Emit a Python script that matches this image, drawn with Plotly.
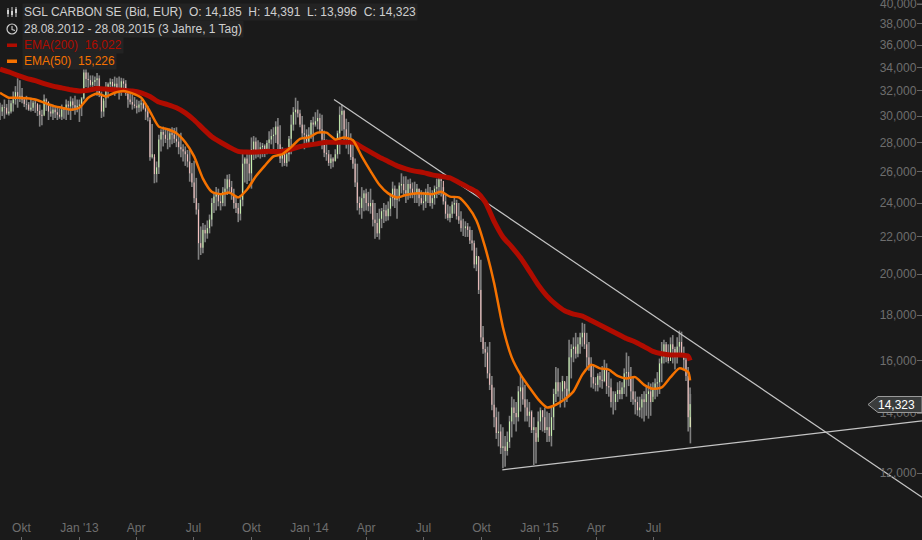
import datetime as dt
import math
import plotly.graph_objects as go

START = dt.datetime(2012, 8, 28)
END = dt.datetime(2015, 8, 28)

high = [31.05,31.3,31.3,31.95,33.05,32.25,31.6,31.45,31.3,30.9,
31.7,31.05,30.9,30.65,30.9,31.3,31.55,31.6,31.3,34.0,
33.55,33.3,33.5,31.95,32.75,33.05,33.2,33.2,33.05,32.1,
31.7,31.3,31.3,31.0,29.7,27.0,28.6,29.2,29.0,29.15,
29.15,28.75,27.75,27.55,26.75,24.0,22.8,22.95,24.3,25.0,
24.6,25.55,25.85,24.9,24.0,27.35,27.2,28.4,28.4,28.05,
27.9,28.85,29.15,29.85,27.7,27.55,30.1,31.45,30.5,29.35,
29.15,29.95,30.5,30.1,28.25,27.2,27.55,30.75,30.5,29.55,
28.25,26.55,25.0,24.9,24.9,24.0,23.65,24.0,24.1,25.35,
24.9,25.9,25.7,25.55,25.35,24.9,24.7,25.2,24.8,25.55,
25.85,24.6,23.8,24.4,24.0,23.05,22.8,22.4,21.4,20.75,
16.8,16.8,14.95,14.05,13.5,13.35,14.6,14.4,15.45,15.05,
14.4,13.85,14.05,14.1,14.05,14.2,15.75,15.15,15.15,16.9,
17.0,17.0,17.65,17.2,16.15,15.35,15.55,16.05,15.55,14.8,
15.15,15.15,16.35,15.75,14.8,14.6,14.8,15.15,15.15,15.55,
16.8,16.8,17.0,16.6,17.3,16.6,15.75,14.95]

low = [29.7,29.8,30.05,30.35,30.65,31.0,30.5,30.35,30.25,29.2,
30.1,29.7,29.7,29.7,29.7,29.7,29.7,30.1,29.55,31.3,
32.1,32.25,31.6,29.85,30.65,31.95,31.6,31.3,32.1,30.65,
30.5,30.2,30.35,29.7,26.75,25.25,25.85,27.75,27.55,27.9,
27.7,27.0,26.4,25.35,24.0,20.75,21.1,21.9,22.6,23.55,
23.55,23.8,24.55,23.65,22.85,23.8,25.2,24.9,26.9,26.9,
27.0,27.4,27.55,27.2,26.35,26.35,27.2,29.35,29.15,27.55,
27.9,27.9,29.0,27.55,26.75,26.2,26.75,27.2,27.9,27.2,
26.2,23.55,23.05,23.55,23.35,21.9,21.85,22.8,22.95,23.8,
23.05,24.6,24.0,24.3,24.0,23.8,23.55,24.0,23.65,24.3,
24.4,23.05,22.85,23.35,22.75,22.05,22.0,21.25,20.15,16.8,
15.75,14.85,13.5,12.85,12.15,12.55,13.15,13.35,14.05,13.7,
13.5,12.25,13.15,13.35,13.0,12.85,14.4,14.2,14.2,14.8,
15.95,16.15,16.6,15.65,14.95,14.8,14.95,15.15,14.6,13.95,
14.4,14.5,14.6,14.4,13.95,13.85,13.7,13.8,14.6,14.6,
15.15,15.95,16.25,15.65,16.25,15.65,13.35,14.1]

close = [30.35,30.65,30.35,31.3,31.45,31.3,30.9,30.65,31.0,30.1,
31.3,30.35,30.5,30.1,30.5,30.9,31.15,30.65,30.9,33.55,
32.9,32.75,33.05,30.35,32.25,32.75,32.6,32.1,32.6,31.3,
30.9,30.65,31.0,30.35,27.0,25.85,28.25,28.6,28.25,28.6,
28.1,27.55,27.2,25.9,24.3,21.65,22.4,22.5,24.0,24.55,
24.0,24.9,25.0,24.0,23.35,26.55,26.55,27.55,27.4,27.7,
27.4,28.25,28.6,27.9,27.2,27.2,29.35,30.5,29.35,28.6,
28.6,29.35,29.85,28.25,27.2,26.9,27.2,30.1,29.0,27.9,
26.55,24.0,24.3,24.0,24.0,22.8,23.05,23.55,23.65,24.9,
24.3,25.2,24.6,24.9,24.6,24.3,24.1,24.6,24.3,25.0,
25.4,23.35,23.35,24.0,22.95,22.5,22.4,21.65,20.95,17.0,
16.35,15.05,13.85,13.35,12.85,13.0,14.2,13.85,14.95,14.2,
14.05,13.5,13.7,13.85,13.5,13.85,15.15,14.8,14.9,16.15,
16.6,16.7,17.2,16.15,15.35,15.05,15.25,15.65,14.95,14.4,
14.85,14.95,15.55,14.8,14.4,14.2,14.4,14.8,14.85,15.15,
16.15,16.35,16.7,16.15,16.8,16.05,13.85,14.323]

high_mid = [30.9,30.95,31.25,32.4,32.9,31.5,31.1,31.2,30.9,30.5,
31.4,30.95,30.7,30.6,30.7,31.2,31.4,31.3,31.5,33.9,
33.3,33.2,33.3,31.2,32.7,33.0,33.1,33.1,32.9,31.9,
31.5,31.2,31.1,30.8,29.4,26.7,29.0,29.1,29.05,29.1,
28.6,27.9,27.5,26.6,25.6,22.6,22.7,23.3,24.6,24.9,
25.0,25.8,25.4,24.4,24.5,27.0,27.2,28.5,28.2,28.0,
28.2,29.0,29.6,29.3,27.3,28.5,30.7,31.2,30.0,29.0,
29.7,30.3,30.2,28.9,27.5,27.0,28.9,30.9,29.8,28.7,
26.9,24.4,24.8,24.7,24.2,23.4,23.7,23.9,24.6,25.1,
25.3,25.7,25.5,25.3,25.2,24.8,24.9,25.0,25.1,25.7,
25.0,23.9,24.1,24.2,23.5,22.9,22.6,21.8,20.9,17.5,
16.6,15.4,14.2,13.6,13.2,13.9,14.5,15.0,15.3,14.5,
14.1,13.3,14.2,14.2,14.0,14.9,15.7,15.4,15.4,16.7,
17.2,17.2,17.6,16.8,15.8,15.5,15.8,15.9,15.3,14.8,
15.2,15.7,16.2,15.4,14.6,14.7,15.0,15.1,15.3,16.1,
16.9,16.7,17.1,17.0,17.25,16.3,14.7]

low_mid = [30.0,30.1,30.2,30.9,31.1,30.7,30.4,30.4,30.0,29.3,
30.4,29.95,29.85,29.8,29.8,30.1,30.4,30.3,30.0,32.3,
32.35,32.4,31.5,29.95,31.4,32.2,31.9,31.6,31.6,30.9,
30.6,30.3,30.5,29.6,26.9,25.3,27.4,28.0,27.7,28.0,
27.2,26.7,26.3,25.0,23.3,21.0,21.7,22.2,23.4,23.8,
23.8,24.5,24.2,23.4,22.95,25.3,25.4,26.8,27.0,27.0,
27.2,27.9,28.0,26.6,26.4,26.7,28.9,29.9,28.4,27.7,
28.3,29.2,28.8,27.0,26.4,26.3,26.9,28.9,27.6,26.8,
25.0,23.3,23.5,23.5,22.6,22.0,22.5,22.9,23.2,23.7,
24.1,24.5,24.2,24.3,24.0,23.9,23.7,23.8,23.9,24.5,
23.9,22.95,23.1,23.0,22.3,22.0,21.6,20.3,19.0,16.3,
15.3,14.1,13.1,12.6,12.2,12.8,13.6,13.7,14.3,13.7,
13.3,12.3,13.4,13.3,13.0,13.4,14.6,14.5,14.4,15.3,
16.1,16.3,16.5,15.6,14.9,14.8,14.9,14.7,14.2,14.1,
14.5,14.7,15.0,14.3,13.9,13.8,13.9,13.9,14.5,14.7,
15.9,15.9,15.9,15.9,16.2,15.2,12.95]

close_mid = [30.7,30.2,31.0,31.9,31.6,30.95,30.5,31.05,30.4,30.0,
31.15,30.2,30.3,29.95,30.6,30.75,30.85,30.8,31.4,33.0,
32.5,32.9,31.7,31.4,32.55,32.4,32.2,32.8,31.8,31.1,
30.8,30.9,30.6,29.9,27.2,26.3,28.8,28.3,28.7,28.3,
27.7,27.4,26.7,25.3,23.6,21.4,22.2,23.0,24.4,24.1,
24.7,25.5,24.5,23.7,24.2,26.9,25.9,28.1,27.3,27.8,
28.0,28.5,29.2,26.9,26.6,28.3,30.3,30.2,28.7,28.1,
29.5,29.6,29.0,27.3,26.6,26.7,28.7,30.4,28.3,27.0,
25.3,23.7,24.6,23.8,23.0,22.2,23.5,23.2,24.3,24.2,
25.1,24.8,25.2,24.5,24.9,24.0,24.7,24.0,24.9,25.5,
24.1,23.1,23.9,23.2,22.5,22.6,21.8,20.5,19.2,16.5,
15.5,14.3,13.3,12.8,12.7,13.7,14.0,14.8,14.5,13.9,
13.4,13.0,14.1,13.4,13.2,14.7,14.8,15.2,14.6,16.5,
16.3,17.0,16.7,15.8,15.1,15.4,15.2,15.0,14.4,14.7,
14.7,15.5,15.3,14.5,14.1,14.5,14.7,14.4,15.1,15.9,
16.7,16.0,16.5,16.6,16.3,15.4,13.5]

ema200 = [33.85,33.6,33.3,33.05,32.85,32.6,32.4,32.25,32.1,32.0,
32.05,32.2,32.15,32.1,32.05,32.0,31.85,31.55,31.1,30.9,
30.65,30.25,29.7,29.05,28.45,28.05,27.7,27.4,27.35,27.35,
27.4,27.4,27.4,27.55,27.75,27.85,27.95,28.05,28.05,28.05,
28.05,27.7,27.35,27.0,26.7,26.4,26.2,26.05,25.95,25.8,
25.7,25.6,25.3,25.0,24.7,24.05,22.9,22.0,21.45,20.85,
20.15,19.45,18.9,18.5,18.2,18.05,17.95,17.75,17.55,17.35,
17.15,16.95,16.8,16.6,16.4,16.3,16.25,16.25,16.2,16.022]

ema50 = [31.85,31.45,31.45,31.4,31.3,31.05,30.8,30.65,30.5,30.65,
31.45,31.8,31.55,31.85,32.0,31.8,31.45,30.35,29.2,29.0,
28.7,28.05,27.05,25.55,24.7,24.55,24.65,24.35,24.85,25.7,
26.4,27.05,27.2,27.7,28.3,28.4,28.75,28.75,28.25,28.4,
28.2,27.05,26.05,25.15,24.6,24.35,24.5,24.6,24.6,24.55,
24.7,24.4,24.35,23.8,22.95,21.4,19.55,17.45,16.15,15.45,
14.95,14.5,14.2,14.3,14.5,14.8,15.45,15.85,15.7,15.65,
15.4,15.3,15.35,15.05,14.9,14.95,15.35,15.7,15.55,15.226]

trend_upper_dates = ["2014-02-09", "2016-08-30"]
trend_upper_prices = [31.3, 11.28]
trend_lower_dates = ["2014-11-03", "2016-08-30"]
trend_lower_prices = [12.1, 13.72]

y_ticks = [12, 14, 16, 18, 20, 22, 24, 26, 28, 30, 32, 34, 36, 38, 40]
y_labels = [f"{v},000" for v in y_ticks]
x_ticks = ["2012-10-01", "2013-01-01", "2013-04-01", "2013-07-01", "2013-10-01", "2014-01-01",
           "2014-04-01", "2014-07-01", "2014-10-01", "2015-01-01", "2015-04-01", "2015-07-01"]
x_labels = ["Okt", "Jan '13", "Apr", "Jul", "Okt", "Jan '14", "Apr", "Jul", "Okt", "Jan '15", "Apr", "Jul"]

W, H = 922, 540
BG = "#1a1a1a"
GREEN, PINK, GREY = "#c9f5b0", "#f5c2c0", "#808080"
RED, ORANGE = "#b00c00", "#f57200"
TXT = "#cfcfcf"
AXIS = "#6e6e6e"


def weave(a, b):
    out = []
    for i, v in enumerate(a):
        out.append(v)
        if i < len(b):
            out.append(b[i])
    return out


all_high = weave(high, high_mid)
all_low = weave(low, low_mid)
all_close = weave(close, close_mid)
bar_dates = [START + dt.timedelta(days=3.5 * i) for i in range(len(all_close))]
bar_dates[-1] = END
ema_dates = [START + dt.timedelta(days=14 * i) for i in range(len(ema200) - 1)] + [END]
opens = [all_close[0]] + all_close[:-1]

fig = go.Figure()
fig.add_trace(go.Ohlc(x=bar_dates, open=all_low, high=all_high, low=all_low, close=all_high, tickwidth=0,
                      increasing_line=dict(color=GREY, width=1.6), decreasing_line=dict(color=GREY, width=1.6),
                      hoverinfo="skip", showlegend=False))
fig.add_trace(go.Ohlc(x=bar_dates, open=opens, close=all_close,
                      high=[max(a, b) for a, b in zip(opens, all_close)],
                      low=[min(a, b) for a, b in zip(opens, all_close)], tickwidth=0,
                      increasing_line=dict(color=GREEN, width=1), decreasing_line=dict(color=PINK, width=1),
                      hoverinfo="skip", showlegend=False))
for xs, ys in ((trend_upper_dates, trend_upper_prices), (trend_lower_dates, trend_lower_prices)):
    fig.add_trace(go.Scatter(x=xs, y=ys, mode="lines", line=dict(color="#c4c4c4", width=1.2),
                             hoverinfo="skip", showlegend=False))
fig.add_trace(go.Scatter(x=ema_dates, y=ema200, mode="lines", line=dict(color=RED, width=5, shape="spline", smoothing=0.6),
                         hoverinfo="skip", showlegend=False))
fig.add_trace(go.Scatter(x=ema_dates, y=ema50, mode="lines", line=dict(color=ORANGE, width=2.5, shape="spline", smoothing=0.6),
                         hoverinfo="skip", showlegend=False))


def px(x):
    return x / W


def py(y):
    return 1 - y / H


def to_log(y_px):
    return math.log10(40 * math.exp(-(y_px - 4) / 389.6))


annotations = []
shapes = []


def label(x, y, text, color=TXT, size=12, bg="#232323"):
    annotations.append(dict(x=px(x), y=py(y), xref="paper", yref="paper", text=text, showarrow=False,
                            xanchor="left", yanchor="middle", align="left", bgcolor=bg, borderpad=1,
                            font=dict(family="Liberation Sans", size=size, color=color)))


label(22, 12.5, "SGL CARBON SE (Bid, EUR)&nbsp;&nbsp;O: 14,185&nbsp;&nbsp;H: 14,391&nbsp;&nbsp;L: 13,996&nbsp;&nbsp;C: 14,323")
label(22, 29, "28.08.2012 - 28.08.2015 (3 Jahre, 1 Tag)")
label(22, 45, "EMA(200)&nbsp;&nbsp;16,022", color=RED)
label(22, 61, "EMA(50)&nbsp;&nbsp;15,226", color=ORANGE)


def rect(x0, y0, x1, y1, fill, line=None):
    shapes.append(dict(type="rect", xref="paper", yref="paper", x0=px(x0), x1=px(x1), y0=py(y0), y1=py(y1),
                       fillcolor=fill, line=dict(width=0 if line is None else 1, color=line or fill), layer="above"))


rect(7, 43.5, 17, 47, RED)
rect(7, 59.5, 17, 63, ORANGE)
# bar-chart icon and clock icon
for cx, top, bottom, bt, bb in ((8, 8, 17, 10, 14), (12, 7, 17, 11, 15), (16, 7, 17, 9, 13)):
    shapes.append(dict(type="line", xref="paper", yref="paper", x0=px(cx), x1=px(cx), y0=py(top), y1=py(bottom),
                       line=dict(color=TXT, width=1), layer="above"))
    rect(cx - 1, bt, cx + 1, bb, TXT)
shapes.append(dict(type="circle", xref="paper", yref="paper", x0=px(7), x1=px(17), y0=py(24), y1=py(34),
                   line=dict(color=TXT, width=1.2), layer="above"))
shapes.append(dict(type="path", xref="paper", yref="paper",
                   path=f"M {px(12)} {py(26)} L {px(12)} {py(29.5)} L {px(15)} {py(30.5)}",
                   line=dict(color=TXT, width=1.1), layer="above"))
# top tick, whose label Plotly would drop at the plot edge
shapes.append(dict(type="line", xref="paper", yref="paper", x0=px(917), x1=px(922), y0=py(4), y1=py(4),
                   line=dict(color="#666666", width=1), layer="above"))
annotations.append(dict(x=px(916), y=py(4), xref="paper", yref="paper", text=y_labels[-1], showarrow=False,
                        xanchor="right", yanchor="middle", xshift=3, font=dict(family="Liberation Sans", size=12, color=AXIS)))
# last-price tag
tag = [(868, 404.5), (878, 396.5), (922, 396.5), (922, 412.5), (878, 412.5)]
shapes.append(dict(type="path", xref="paper", yref="paper",
                   path="M " + " L ".join(f"{px(a)} {py(b)}" for a, b in tag) + " Z",
                   fillcolor="#3a3c3c", line=dict(color="#9a9a9a", width=1), layer="above"))
annotations.append(dict(x=px(917), y=py(404.5), xref="paper", yref="paper", text="14,323", showarrow=False,
                        xanchor="right", yanchor="middle", font=dict(family="Liberation Sans", size=12, color="#ffffff")))

fig.update_layout(
    width=W, height=H, margin=dict(l=0, r=0, t=0, b=0), paper_bgcolor=BG, plot_bgcolor=BG,
    showlegend=False, annotations=annotations, shapes=shapes,
    xaxis=dict(type="date", range=["2012-08-28", "2016-08-30"], rangeslider=dict(visible=False),
               tickmode="array", tickvals=x_ticks, ticktext=x_labels, ticks="inside", ticklen=3, tickcolor="#666666",
               ticklabelposition="inside", ticklabelstandoff=2, tickfont=dict(family="Liberation Sans", size=12, color=AXIS),
               showgrid=False, zeroline=False, showline=False, domain=[0, 1]),
    yaxis=dict(type="log", side="right", range=[to_log(540), to_log(0)], tickmode="array", tickvals=y_ticks,
               ticktext=y_labels, ticks="inside", ticklen=5, tickcolor="#666666", ticklabelposition="inside",
               tickfont=dict(family="Liberation Sans", size=12, color=AXIS),
               showgrid=False, zeroline=False, showline=False, domain=[0, 1]),
)

fig.write_html("out.html", config={"displayModeBar": False},
               post_script="document.body.style.margin='0';document.body.style.background='#1a1a1a';")
